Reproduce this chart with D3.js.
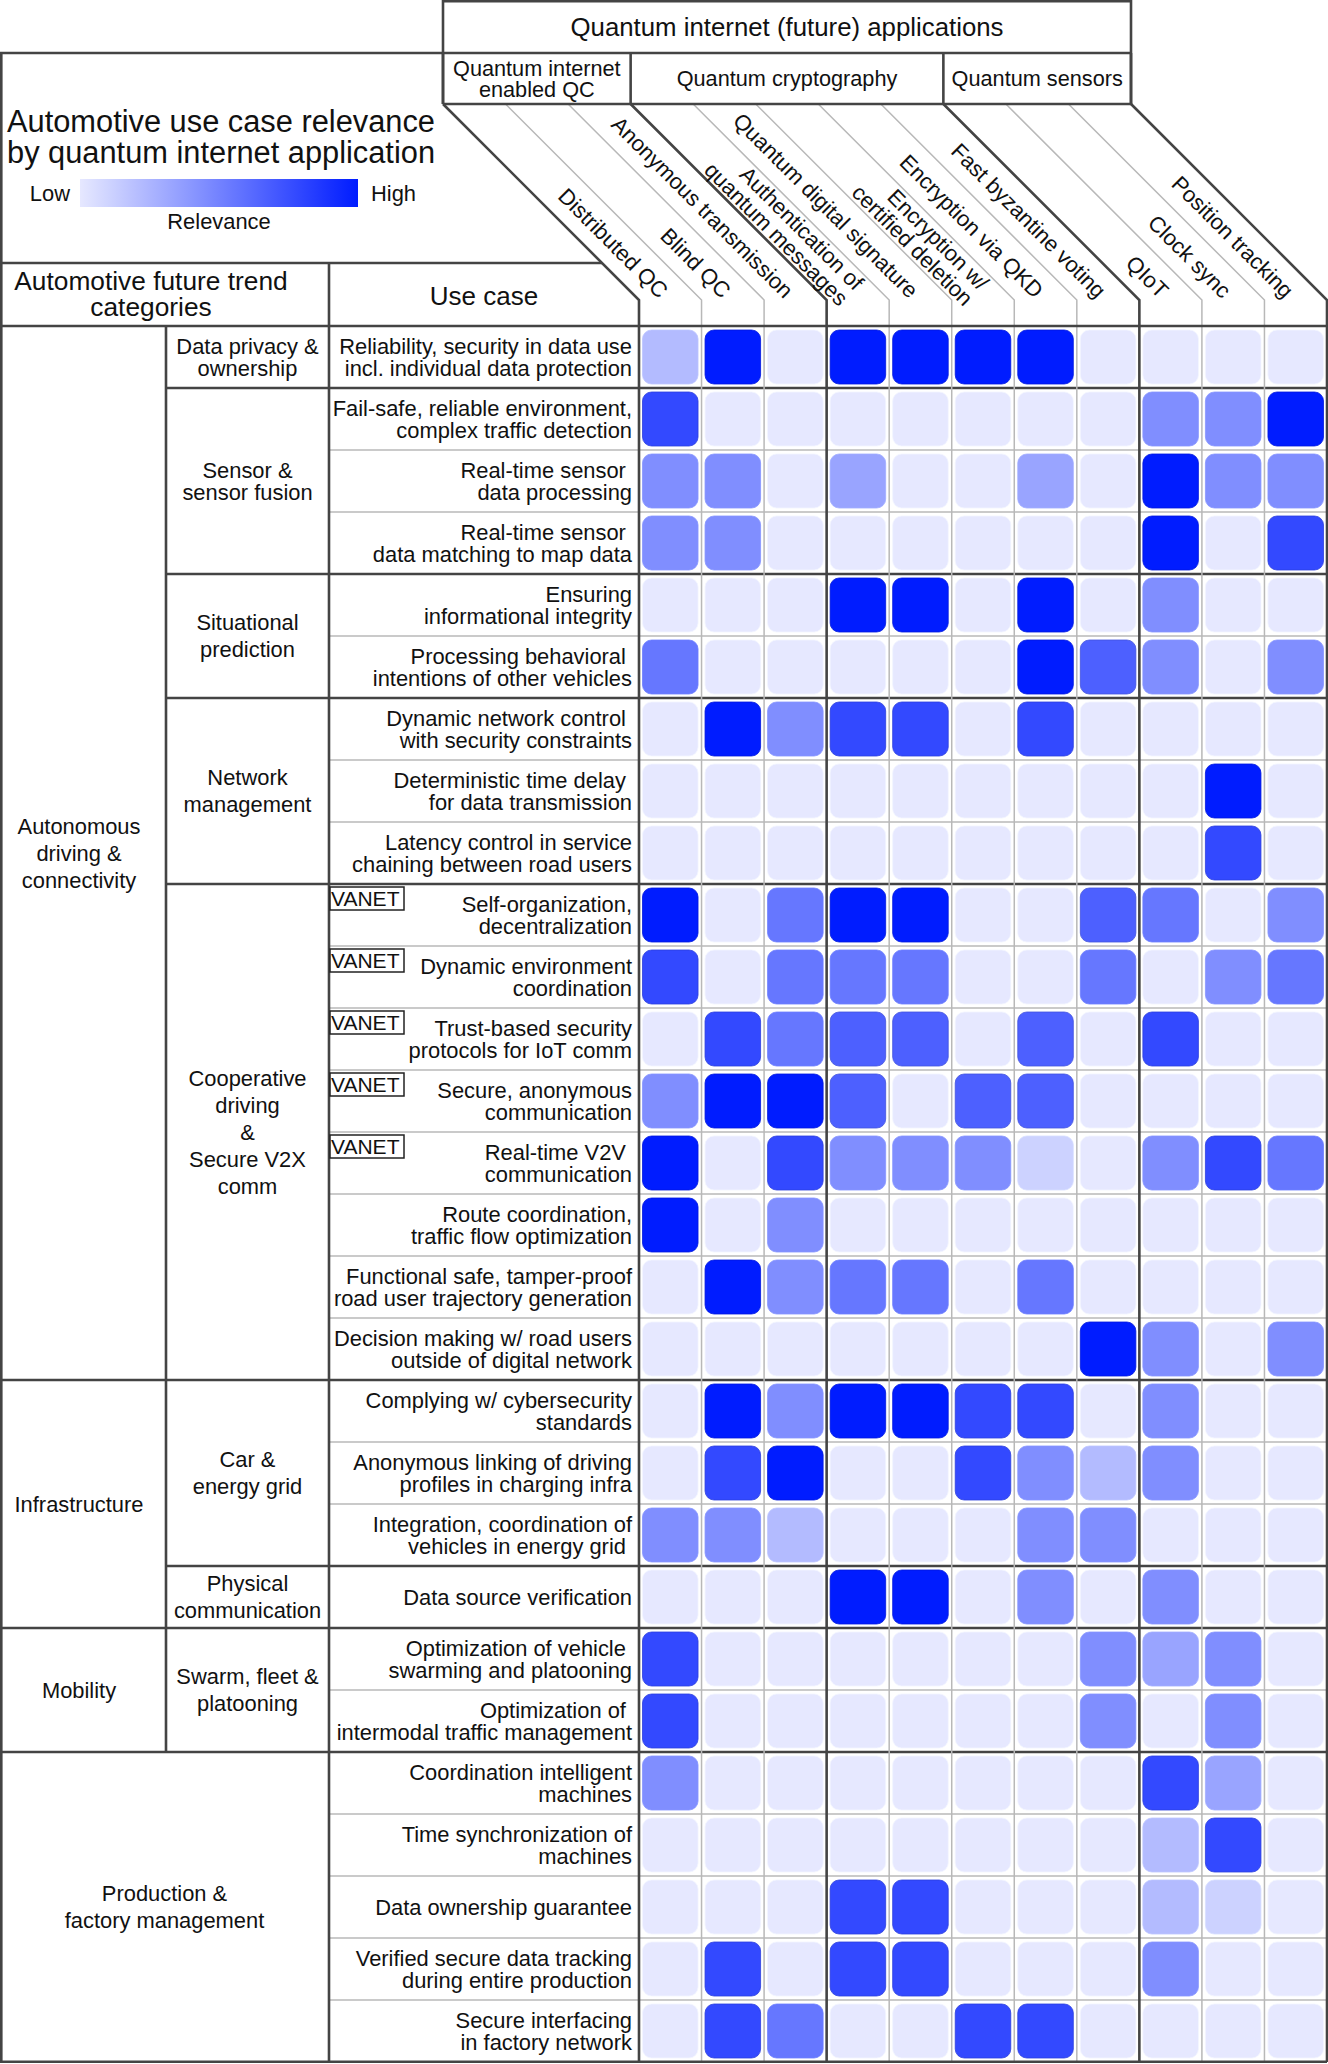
<!DOCTYPE html>
<html><head><meta charset="utf-8">
<script src="https://cdn.jsdelivr.net/npm/d3@7"></script>
<style>
body{margin:0;background:#fff;}
svg text{font-family:"Liberation Sans",Arial,Helvetica,sans-serif;fill:#111;}
</style></head><body>
<svg id="chart" width="1328" height="2064"></svg>
<script>
// ---------------- DATA ----------------
const columns = ["Distributed QC","Blind QC","Anonymous transmission","Authentication of|quantum messages",
  "Quantum digital signature","Encryption w/|certified deletion","Encryption via QKD","Fast byzantine voting",
  "QIoT","Clock sync","Position tracking"];
const columnGroups = ["Quantum internet|enabled QC","Quantum cryptography","Quantum sensors"];
const columnGroupSpans = [3,5,3];
const topHeader = "Quantum internet (future) applications";

const categories = ["Autonomous|driving &|connectivity","Infrastructure","Mobility","Production &|factory management"];
const categorySpans = [17,4,2,5];
const subcategories = ["Data privacy &|ownership","Sensor &|sensor fusion","Situational|prediction","Network|management",
  "Cooperative|driving|&|Secure V2X|comm","Car &|energy grid","Physical|communication","Swarm, fleet &|platooning",""];
const subcategorySpans = [1,3,2,3,8,3,1,2,5];

const useCases = [
 "Reliability, security in data use|incl. individual data protection",
 "Fail-safe, reliable environment,|complex traffic detection",
 "Real-time sensor\u00a0|data processing",
 "Real-time sensor\u00a0|data matching to map data",
 "Ensuring|informational integrity",
 "Processing behavioral\u00a0|intentions of other vehicles",
 "Dynamic network control\u00a0|with security constraints",
 "Deterministic time delay\u00a0|for data transmission",
 "Latency control in service|chaining between road users",
 "Self-organization,|decentralization",
 "Dynamic environment|coordination",
 "Trust-based security|protocols for IoT comm",
 "Secure, anonymous|communication",
 "Real-time V2V\u00a0|communication",
 "Route coordination,|traffic flow optimization",
 "Functional safe, tamper-proof|road user trajectory generation",
 "Decision making w/ road users|outside of digital network",
 "Complying w/ cybersecurity|standards",
 "Anonymous linking of driving|profiles in charging infra",
 "Integration, coordination of|vehicles in energy grid\u00a0",
 "Data source verification",
 "Optimization of vehicle\u00a0|swarming and platooning",
 "Optimization of\u00a0|intermodal traffic management",
 "Coordination intelligent|machines",
 "Time synchronization of|machines",
 "Data ownership guarantee",
 "Verified secure data tracking|during entire production",
 "Secure interfacing|in factory network"
];
const vanetRows = [9,10,11,12,13];

// relevance 0 (none) .. 10 (high); columns in the order of `columns`
const relevance = [
 [3,10,1,10,10,10,10,1,1,1,1],
 [8,1,1,1,1,1,1,1,5,5,10],
 [5,5,1,4,1,1,4,1,10,5,5],
 [5,5,1,1,1,1,1,1,10,1,8],
 [1,1,1,10,10,1,10,1,5,1,1],
 [6,1,1,1,1,1,10,7,5,1,5],
 [1,10,5,8,8,1,8,1,1,1,1],
 [1,1,1,1,1,1,1,1,1,10,1],
 [1,1,1,1,1,1,1,1,1,8,1],
 [10,1,6,10,10,1,1,7,6,1,5],
 [8,1,6,6,6,1,1,6,1,5,6],
 [1,8,6,7,7,1,7,1,8,1,1],
 [5,10,10,7,1,7,7,1,1,1,1],
 [10,1,8,5,5,5,2,1,5,8,6],
 [10,1,5,1,1,1,1,1,1,1,1],
 [1,10,5,6,6,1,6,1,1,1,1],
 [1,1,1,1,1,1,1,10,5,1,5],
 [1,10,5,10,10,8,8,1,5,1,1],
 [1,8,10,1,1,8,5,3,5,1,1],
 [5,5,3,1,1,1,5,5,1,1,1],
 [1,1,1,10,10,1,5,1,5,1,1],
 [8,1,1,1,1,1,1,5,4,5,1],
 [8,1,1,1,1,1,1,5,1,5,1],
 [5,1,1,1,1,1,1,1,8,4,1],
 [1,1,1,1,1,1,1,1,3,8,1],
 [1,1,1,8,8,1,1,1,3,2,1],
 [1,8,1,8,8,1,1,1,5,1,1],
 [1,8,6,1,1,8,8,1,1,1,1]
];
const legendLabels = ["Low","High","Relevance"];
const titleLines = ["Automotive use case relevance","by quantum internet application"];
const tableHeaders = ["Automotive future trend|categories","Use case"];

// ---------------- LAYOUT ----------------
const svg = d3.select("#chart");
const DARK = "#444", LIGHT = "#b8b8b8", TW = 2.6, LW = 1.5;
const FS = 21.9;
const x = d3.scaleBand().domain(d3.range(columns.length)).range([639, 1327]);
const y = d3.scaleBand().domain(d3.range(useCases.length)).range([326, 2062]);
const color = d3.scaleLinear().domain([0,10]).range(["#ffffff","#001cff"]);
const colW = x.bandwidth(), rowH = y.bandwidth();
const gridL = x.range()[0], gridR = x.range()[1], gridT = y.range()[0], gridB = y.range()[1];
const subX = 166, useX = 329;
const subHeadTop = 53, subHeadBot = 104, diagBot = 300, D = diagBot - subHeadBot;
const tableHeadTop = 263;
const edgeX = k => gridL + k*colW;

svg.append("rect").attr("width",1328).attr("height",2064).attr("fill","#fff");

// cells
const gCells = svg.append("g");
relevance.forEach((row, r) => {
  gCells.selectAll(null).data(row).enter().append("rect")
    .attr("x",(d,c)=>x(c)+3.5).attr("y",y(r)+4)
    .attr("width",colW-7).attr("height",rowH-8).attr("rx",9).attr("ry",9)
    .attr("fill",d=>color(d))
    .attr("stroke",d=>d3.color(color(d)).darker(d>6?0.4:-0.15))
    .attr("stroke-width",0.8);
});

const gL = svg.append("g").attr("fill","none");
function line(x1,y1,x2,y2,thick){
  gL.append("line").attr("x1",x1).attr("y1",y1).attr("x2",x2).attr("y2",y2)
    .attr("stroke",thick?DARK:LIGHT).attr("stroke-width",thick?TW:LW);
}
function path(pts,thick){
  gL.append("path").attr("d",d3.line()(pts)).attr("stroke",thick?DARK:LIGHT)
    .attr("stroke-width",thick?TW:LW).attr("stroke-linejoin","miter");
}

// row boundaries
const catBounds = new Set(), subBounds = new Set();
let acc = 0; categorySpans.forEach(s=>{acc+=s; catBounds.add(acc);});
acc = 0; subcategorySpans.forEach(s=>{acc+=s; subBounds.add(acc);});
for (let i=1;i<useCases.length;i++){
  const yy = y(i);
  if (catBounds.has(i)) line(0,yy,gridR,yy,true);
  else if (subBounds.has(i)) line(subX,yy,gridR,yy,true);
  else line(useX,yy,gridR,yy,false);
}
// column boundaries (grid + diagonal header)
const groupEdges = new Set([0]); acc=0; columnGroupSpans.forEach(s=>{acc+=s; groupEdges.add(acc);});
for (let k=0;k<=columns.length;k++){
  if (!groupEdges.has(k)) path([[edgeX(k)-D,subHeadBot],[edgeX(k),diagBot],[edgeX(k),gridB]],false);
}
for (let k of groupEdges){
  path([[edgeX(k)-D,subHeadBot],[edgeX(k),diagBot],[edgeX(k),gridB]],true);
}
// left structure
line(1.3,subHeadTop,1.3,gridB,true);
line(subX,gridT,subX,y(categorySpans[0]+categorySpans[1]+categorySpans[2]),true);
line(useX,tableHeadTop,useX,gridB,true);
line(0,gridT,gridR,gridT,true);
line(0,gridB-0.3,gridR,gridB-0.3,true);
line(0,tableHeadTop,edgeX(0)-D+(tableHeadTop-subHeadBot),tableHeadTop,true);
// header boxes
const hx0 = edgeX(0)-D, hx1 = edgeX(columns.length)-D;
line(0,subHeadTop,hx1,subHeadTop,true);
line(hx0,1.3,hx1,1.3,true);
line(hx0,subHeadBot,hx1,subHeadBot,true);
line(hx0,0,hx0,subHeadBot,true);
line(hx1,0,hx1,subHeadBot,true);
for (let k of groupEdges) line(edgeX(k)-D,subHeadTop,edgeX(k)-D,subHeadBot,true);

// ---------------- TEXT ----------------
const gT = svg.append("g");
function mtext(lines, cx, cy, lh, anchor, size){
  const t = gT.append("text").attr("text-anchor",anchor).attr("font-size",size).style("white-space","pre");
  const n = lines.length;
  lines.forEach((s,i)=>{
    t.append("tspan").attr("x",cx).attr("y",cy+(i-(n-1)/2)*lh+size*0.35).text(s);
  });
  return t;
}
// top header
mtext([topHeader],(hx0+hx1)/2,27,26,"middle",25.8);
// group headers
acc = 0;
columnGroups.forEach((g,i)=>{
  const a = edgeX(acc)-D, b = edgeX(acc+columnGroupSpans[i])-D;
  acc += columnGroupSpans[i];
  mtext(g.split("|"),(a+b)/2,(subHeadTop+subHeadBot)/2,21,"middle",21.7);
});
// column labels (rotated)
columns.forEach((c,k)=>{
  const ly = 294;
  const lx = x(k)+colW/2 - (diagBot-ly);
  const lines = c.split("|");
  const t = gT.append("text").attr("text-anchor","end").attr("font-size",22)
    .attr("transform",`translate(${lx},${ly}) rotate(45)`);
  const n = lines.length;
  lines.forEach((s,i)=>{
    t.append("tspan").attr("x",0).attr("y",(i-(n-1)/2)*22+22*0.35).text(s);
  });
});
// title & legend
mtext([titleLines[0]],7,121,31,"start",30.8);
mtext([titleLines[1]],7,152,31,"start",30.8);
const defs = svg.append("defs");
const grad = defs.append("linearGradient").attr("id","lg");
d3.range(0,1.01,0.1).forEach(t=>{
  grad.append("stop").attr("offset",t).attr("stop-color",color(1+t*9));
});
svg.append("rect").attr("x",80).attr("y",179).attr("width",278).attr("height",28).attr("fill","url(#lg)");
mtext([legendLabels[0]],70,193,0,"end",FS);
mtext([legendLabels[1]],371,193,0,"start",FS);
mtext([legendLabels[2]],219,221,0,"middle",FS);
// table header
mtext(tableHeaders[0].split("|"),151,294,26,"middle",26.3);
mtext([tableHeaders[1]],484,296,0,"middle",26);
// categories
acc = 0;
categories.forEach((c,i)=>{
  const span = categorySpans[i];
  const cy = y(acc) + span*rowH/2;
  const wide = i===categories.length-1;
  mtext(c.split("|"), wide ? (useX/2) : 79, cy, 27, "middle", FS);
  acc += span;
});
// subcategories
const tight = new Set([0,1]);
acc = 0;
subcategories.forEach((s,i)=>{
  const span = subcategorySpans[i];
  if (s) {
    const cy = y(acc) + span*rowH/2;
    mtext(s.split("|"), (subX+useX)/2, cy, tight.has(i)?22:27, "middle", FS);
  }
  acc += span;
});
// use cases
useCases.forEach((u,r)=>{
  mtext(u.split("|"), 632, y(r)+rowH/2, 22, "end", FS);
});
// VANET tags
const gV = svg.append("g");
vanetRows.forEach(r=>{
  gV.append("rect").attr("x",330).attr("y",y(r)+3).attr("width",74).attr("height",23)
    .attr("fill","#fff").attr("stroke","#222").attr("stroke-width",1.5);
  gV.append("text").attr("x",331).attr("y",y(r)+22).attr("font-size",21).text("VANET");
});
</script>
</body></html>
